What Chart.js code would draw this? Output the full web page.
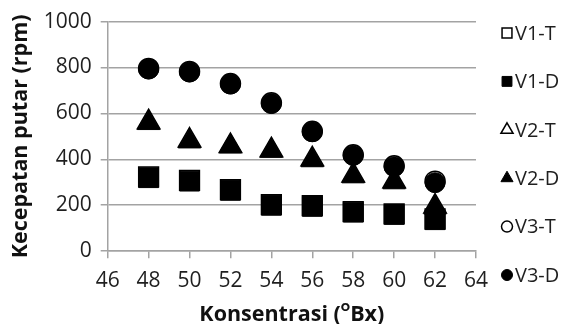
<!DOCTYPE html>
<html lang="id">
<head>
  <meta charset="UTF-8">
  <title>Kecepatan putar vs Konsentrasi</title>
  <style>
    html, body { margin: 0; padding: 0; background: #fff; }
    #wrap { width: 574px; height: 324px; }
  </style>
</head>
<body>
  <div id="wrap"><canvas id="grafik" width="574" height="324"></canvas></div>
  <script src="https://cdn.jsdelivr.net/npm/chart.js"></script>
  <script>
    // Data
    const konsentrasi = [48, 50, 52, 54, 56, 58, 60, 62];
    const v1T = [324, 308, 268, 203, 198, 172, 162, 140];
    const v1D = [320, 305, 265, 200, 195, 170, 160, 137];
    const v2T = [562, 482, 458, 440, 400, 330, 304, 194];
    const v2D = [558, 478, 456, 437, 396, 326, 300, 190];
    const v3T = [796, 783, 730, 646, 522, 420, 372, 305];
    const v3D = [793, 780, 728, 643, 520, 417, 368, 298];
    const yTicks = [0, 200, 400, 600, 800, 1000];

    const abu = "#a3a3a3";
    const teks = "#1f1f1f";
    const huruf = "'Open Sans', Lato, sans-serif";

    function titik(xs, ys) {
      return xs.map((x, i) => ({ x: x, y: ys[i] }));
    }

    function seri(label, ys, gaya, isi, r) {
      return {
        label: label,
        data: titik(konsentrasi, ys),
        pointStyle: gaya,
        pointRadius: r,
        pointHoverRadius: r,
        backgroundColor: isi ? "#000" : "#fff",
        borderColor: "#000",
        borderWidth: isi ? 1 : 1.5,
        showLine: false,
        order: isi ? 0 : 1
      };
    }

    // legenda di kanan, digambar sendiri supaya jaraknya sama seperti aslinya
    const radiusLegenda = { rect: 7, triangle: 7, circle: 5.5 };
    const legendaKustom = {
      id: "legendaKustom",
      afterDraw(chart) {
        const ctx = chart.ctx;
        const x0 = chart.width - 67;
        const y0 = 33;
        const langkah = 48.4;
        ctx.save();
        chart.data.datasets.forEach((ds, i) => {
          const y = y0 + i * langkah;
          ctx.fillStyle = ds.backgroundColor;
          ctx.strokeStyle = ds.borderColor;
          ctx.lineWidth = ds.borderWidth;
          Chart.helpers.drawPoint(ctx, {
            pointStyle: ds.pointStyle,
            radius: radiusLegenda[ds.pointStyle],
            rotation: 0,
            borderWidth: ds.borderWidth
          }, x0, y);
          ctx.fillStyle = teks;
          ctx.font = "20px " + huruf;
          ctx.textBaseline = "middle";
          ctx.textAlign = "left";
          ctx.fillText(ds.label, x0 + 8, y + 1);
        });
        ctx.restore();
      }
    };

    const data = {
      datasets: [
        seri("V1-T", v1T, "rect", false, 14),
        seri("V1-D", v1D, "rect", true, 14),
        seri("V2-T", v2T, "triangle", false, 13),
        seri("V2-D", v2D, "triangle", true, 13),
        seri("V3-T", v3T, "circle", false, 10),
        seri("V3-D", v3D, "circle", true, 10)
      ]
    };

    new Chart(document.getElementById("grafik").getContext("2d"), {
      type: "scatter",
      data: data,
      plugins: [legendaKustom],
      options: {
        responsive: false,
        animation: false,
        layout: { padding: { left: 9, top: 18, right: 98, bottom: -3 } },
        plugins: {
          tooltip: { enabled: false },
          legend: { display: false }
        },
        scales: {
          x: {
            type: "linear",
            min: 46,
            max: 64,
            ticks: { stepSize: 2, color: teks, padding: 10, font: { family: huruf, size: 21 } },
            grid: { drawOnChartArea: false, drawTicks: true, tickLength: 7, color: abu, lineWidth: 1.5 },
            border: { color: abu, width: 1.5 },
            title: {
              display: true,
              text: "Konsentrasi (\u1D3CBx)",
              color: "#111",
              font: { family: huruf, size: 21.5, weight: "bold", lineHeight: 1.1 },
              padding: { top: 0, bottom: 0 }
            }
          },
          y: {
            min: 0,
            max: 1000,
            afterBuildTicks: (ax) => { ax.ticks = yTicks.map(v => ({ value: v })); },
            ticks: { color: teks, padding: 9, font: { family: huruf, size: 21 }, callback: (v) => String(v) },
            grid: { color: abu, lineWidth: 1.5, tickLength: 7 },
            border: { color: abu, width: 1.5 },
            title: {
              display: true,
              text: "Kecepatan putar (rpm)",
              color: "#111",
              font: { family: huruf, size: 21.5, weight: "bold", lineHeight: 1.1 },
              padding: { top: 0, bottom: 2 }
            }
          }
        }
      }
    });
  </script>
</body>
</html>
